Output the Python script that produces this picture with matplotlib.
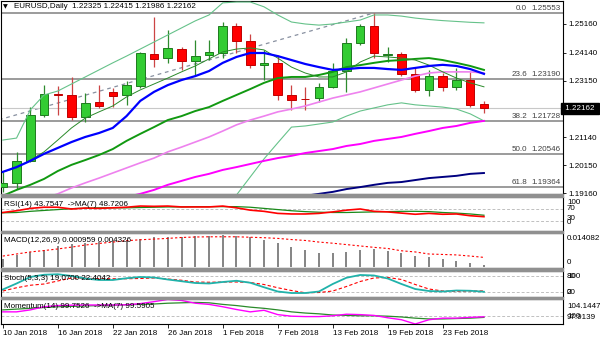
import numpy as np
import matplotlib
matplotlib.use("Agg")
import matplotlib.pyplot as plt
from matplotlib.patches import Rectangle

nan = np.nan

# daily EURUSD bars, 10 Jan 2018 .. 28 Feb 2018
date_labels = ["10 Jan 2018", "16 Jan 2018", "22 Jan 2018", "26 Jan 2018", "1 Feb 2018",
               "7 Feb 2018", "13 Feb 2018", "19 Feb 2018", "23 Feb 2018"]
label_bars = [0, 4, 8, 12, 16, 20, 24, 28, 32]

opens = [1.1938, 1.1951, 1.2030, 1.2193, 1.2267, 1.2264, 1.2186, 1.2239, 1.2275, 1.2264,
         1.2296, 1.2409, 1.2395, 1.2427, 1.2385, 1.2406, 1.2413, 1.2509, 1.2455, 1.2370,
         1.2377, 1.2264, 1.2251, 1.2253, 1.2292, 1.2349, 1.2450, 1.2509, 1.2405, 1.2409,
         1.2339, 1.2282, 1.2331, 1.2292, 1.2317, 1.22325]
highs = [1.1990, 1.2060, 1.2221, 1.2300, 1.2296, 1.2328, 1.2271, 1.2299, 1.2290, 1.2315,
         1.2417, 1.2541, 1.2495, 1.2434, 1.2459, 1.2459, 1.2523, 1.2520, 1.2480, 1.2424,
         1.2406, 1.2299, 1.2292, 1.2306, 1.2377, 1.2466, 1.2516, 1.25553, 1.2434, 1.2417,
         1.2360, 1.2353, 1.2342, 1.2360, 1.2346, 1.22415]
lows = [1.1918, 1.1930, 1.2025, 1.2185, 1.2193, 1.2175, 1.2168, 1.2218, 1.2221, 1.2229,
        1.2290, 1.2363, 1.2378, 1.2353, 1.2336, 1.2388, 1.2395, 1.2413, 1.2360, 1.2317,
        1.2246, 1.2211, 1.2211, 1.2240, 1.2290, 1.2275, 1.2440, 1.2395, 1.2381, 1.2333,
        1.2275, 1.2260, 1.2278, 1.2280, 1.2221, 1.21986]
closes = [1.1952, 1.2030, 1.2193, 1.2267, 1.2264, 1.2186, 1.2236, 1.2225, 1.2260, 1.2299,
          1.2413, 1.2392, 1.2431, 1.2385, 1.2403, 1.2417, 1.2509, 1.2456, 1.2370, 1.2377,
          1.2264, 1.2246, 1.2248, 1.2292, 1.2349, 1.2449, 1.2509, 1.2413, 1.2410, 1.2339,
          1.2282, 1.2331, 1.2292, 1.2317, 1.2229, 1.22162]

# moving averages and bands
ma_fast = [1.1991, 1.2005, 1.2033, 1.2062, 1.2104, 1.2147, 1.2182, 1.2204, 1.2225, 1.2257,
           1.2282, 1.2303, 1.2324, 1.2346, 1.2367, 1.2392, 1.2417, 1.2427, 1.2431, 1.2424,
           1.2395, 1.2363, 1.2342, 1.2328, 1.2328, 1.2346, 1.2381, 1.2402, 1.2399, 1.2395,
           1.2388, 1.2370, 1.2346, 1.2324, 1.2307, 1.2293]
ma_blue = [1.1991, 1.2008, 1.2030, 1.2055, 1.2076, 1.2097, 1.2115, 1.2129, 1.2147, 1.2189,
           1.2243, 1.2275, 1.2299, 1.2317, 1.2331, 1.2349, 1.2378, 1.2399, 1.2413, 1.2413,
           1.2402, 1.2388, 1.2374, 1.2363, 1.2353, 1.2356, 1.2360, 1.2360, 1.2356, 1.2353,
           1.2360, 1.2367, 1.2371, 1.2367, 1.2356, 1.2339]
ma_green = [1.1906, 1.1927, 1.1945, 1.1966, 1.1994, 1.2016, 1.2033, 1.2051, 1.2072, 1.2101,
            1.2126, 1.2150, 1.2175, 1.2189, 1.2207, 1.2221, 1.2243, 1.2264, 1.2285, 1.2307,
            1.2324, 1.2328, 1.2328, 1.2335, 1.2346, 1.2363, 1.2370, 1.2378, 1.2385, 1.2388,
            1.2392, 1.2395, 1.2388, 1.2378, 1.2367, 1.2353]
ma_violet = [1.1856, 1.1870, 1.1884, 1.1898, 1.1913, 1.1934, 1.1952, 1.1969, 1.1987, 1.2005,
             1.2023, 1.2040, 1.2062, 1.2079, 1.2097, 1.2115, 1.2136, 1.2158, 1.2175, 1.2189,
             1.2204, 1.2214, 1.2225, 1.2239, 1.2253, 1.2264, 1.2275, 1.2289, 1.2303, 1.2317,
             1.2331, 1.2342, 1.2346, 1.2346, 1.2346, 1.2342]
ma_magenta = [nan, nan, nan, nan, nan, nan, nan, nan, 1.1888, 1.1902,
              1.1913, 1.1927, 1.1945, 1.1959, 1.1973, 1.1984, 1.1998, 1.2008, 1.2019, 1.2030,
              1.2040, 1.2048, 1.2058, 1.2065, 1.2072, 1.2083, 1.2090, 1.2101, 1.2108, 1.2115,
              1.2126, 1.2136, 1.2147, 1.2154, 1.2165, 1.2172]
ma_navy = [nan] * 22 + [1.1906, 1.1913, 1.1920, 1.1930, 1.1937, 1.1945, 1.1952, 1.1955,
                        1.1962, 1.1969, 1.1973, 1.1977, 1.1984, 1.1987]
bb_upper = [1.2104, 1.2111, 1.2211, 1.2264, 1.2278, 1.2303, 1.2328, 1.2353, 1.2378, 1.2402,
            1.2427, 1.2452, 1.2477, 1.2502, 1.2527, 1.2548, 1.2591, 1.2594, 1.2594, 1.2577,
            1.2548, 1.2523, 1.2516, 1.2512, 1.2516, 1.2523, 1.2530, 1.2548, 1.2548, 1.2544,
            1.2537, 1.2532, 1.2528, 1.2525, 1.2522, 1.2520]
bb_lower = [nan] * 16 + [1.1838, 1.1909, 1.1973, 1.2037, 1.2094, 1.2150, 1.2154, 1.2161,
                         1.2168, 1.2189, 1.2207, 1.2218, 1.2229, 1.2236, 1.2229, 1.2225,
                         1.2221, 1.2214, 1.2197, 1.2172]

# fibonacci retracement (7 Nov 2017 low -> 16 Feb 2018 high)
fib_ratios = ["0.0", "23.6", "38.2", "50.0", "61.8"]
fib_levels = [1.25553, 1.23190, 1.21728, 1.20546, 1.19364]
fib_low_bar, fib_low = -45, 1.15540
fib_high_bar, fib_high = 27, 1.25553
bid = 1.22162
price_ticks = [1.25160, 1.24140, 1.23150, 1.21140, 1.20150, 1.19160]

# oscillators
rsi = [58, 64, 72, 76, 76, 70, 73, 72, 74, 76, 80, 79, 80, 77, 77, 77, 80, 74, 66, 62,
       55, 53, 53, 55, 60, 66, 70, 62, 60, 56, 52, 55, 52, 53, 47, 43.7547]
rsi_ma = [57, 58, 62, 65, 68, 71, 73, 74, 74, 74, 75, 76, 77, 77, 78, 78, 78, 78, 76, 72,
          68, 64, 61, 59, 58, 58, 59, 60, 61, 62, 62, 61, 58, 56, 53, 48.7206]
macd = [0.0038, 0.0054, 0.0065, 0.0075, 0.0093, 0.0100, 0.0105, 0.0112, 0.0116, 0.0119,
        0.0122, 0.0131, 0.0133, 0.0133, 0.0136, 0.0136, 0.014082, 0.0138, 0.0131, 0.0119,
        0.0105, 0.0087, 0.0075, 0.0064, 0.0064, 0.0068, 0.0075, 0.0080, 0.0071, 0.0064,
        0.0049, 0.0045, 0.0036, 0.0029, 0.0019, 0.000959]
macd_signal = [0.0049, 0.0058, 0.0067, 0.0073, 0.0080, 0.0088, 0.0097, 0.0104, 0.0110, 0.0116,
               0.0120, 0.0123, 0.0126, 0.0130, 0.0132, 0.0133, 0.0133, 0.0133, 0.0131, 0.0129,
               0.0126, 0.0121, 0.0117, 0.0110, 0.0105, 0.0099, 0.0093, 0.0087, 0.0082, 0.0072,
               0.0067, 0.0058, 0.0056, 0.0054, 0.0049, 0.004326]
stoch_k = [28, 52, 78, 87, 89, 82, 72, 66, 66, 73, 78, 76, 68, 61, 54, 52, 58, 63, 55, 37,
           20, 14, 14, 20, 50, 75, 86, 84, 72, 50, 30, 22, 20, 24, 23, 19.07]
stoch_d = [22, 35, 45, 50, 62, 74, 73, 71, 71, 71, 72, 74, 70, 65, 58, 57, 58, 58, 56, 48,
           35, 24, 15, 16, 22, 40, 60, 74, 76, 68, 48, 30, 22, 21, 22, 22.4042]
momentum = [101.0, 101.0, 101.5, 102.3, 102.6, 102.7, 102.75, 102.75, 102.75, 102.8,
            103.1, 103.6, 104.1447, 103.9, 103.2, 102.9, 102.3, 101.6, 101.0, 101.4,
            100.3, 99.9, 99.8, 99.8, 100.0, 100.4, 100.3, 100.1, 99.5, 99.0,
            97.9139, 99.0, 99.4, 99.4, 99.6, 99.7526]
momentum_ma = [101.5, 101.7, 101.9, 102.1, 102.3, 102.4, 102.5, 102.6, 102.7, 102.8,
               102.9, 103.0, 103.2, 103.3, 103.4, 103.3, 102.9, 102.6, 102.2, 101.9,
               101.5, 101.0, 100.7, 100.5, 100.2, 100.1, 100.0, 100.0, 99.9, 99.7,
               99.4, 99.2, 99.2, 99.3, 99.4, 99.5905]

plt.rcParams['font.family'] = ['Liberation Sans', 'DejaVu Sans']
FS = 5.8
W, H = 600, 343
fig = plt.figure(figsize=(W / 100, H / 100), dpi=100)
fig.patch.set_facecolor('white')


def panel(top, bottom):
    ax = fig.add_axes([1 / W, 1 - bottom / H, 562 / W, (bottom - top) / H])
    ax.set_xlim(-0.13, 40.75)
    ax.set_xticks([])
    ax.set_yticks([])
    for s in ax.spines.values():
        s.set_linewidth(0.8)
    return ax


def scale_labels(items):
    # window scale labels sit at fixed spots on the right side
    for text, ypx in items:
        fig.text(567 / W, 1 - ypx / H, text, ha='left', va='center', fontsize=FS)


# grey separators between the windows
for top, bottom in [(194, 197), (231, 233), (268, 271), (297, 299)]:
    fig.patches.append(Rectangle((1 / W, 1 - bottom / H), 562 / W, (bottom - top) / H,
                                 transform=fig.transFigure, color='#909090', zorder=0))

x = np.arange(len(opens))
o, hi, lo, c = map(np.array, (opens, highs, lows, closes))
up = c >= o

# ---- price window
ax = panel(1, 194)
ax.set_ylim(1.19125, 1.25976)
ax.yaxis.tick_right()
ax.set_yticks(price_ticks)
ax.set_yticklabels([f"{p:.5f}" for p in price_ticks])
ax.tick_params(axis='y', length=2.5, width=0.6, pad=1.3, labelsize=FS)

for lvl, r in zip(fib_levels, fib_ratios):
    ax.axhline(lvl, color='#808080', lw=1.1, zorder=1)
    ax.text(38.13, lvl + 0.00035, r, ha='right', va='bottom', fontsize=FS, color='#404040')
    ax.text(40.6, lvl + 0.00035, f"{lvl:.5f}", ha='right', va='bottom', fontsize=FS, color='#404040')
ax.plot([fib_low_bar, fib_high_bar], [fib_low, fib_high], color='#8890a0', lw=0.9,
        ls=(0, (3, 3)), zorder=1)
ax.axhline(bid, color='#c8c8c8', lw=0.8, zorder=1)

ax.vlines(x[up], lo[up], hi[up], color='#2e8b2e', lw=0.9, zorder=2)
ax.vlines(x[~up], lo[~up], hi[~up], color='#cc4444', lw=0.9, zorder=2)
body = np.maximum(np.abs(c - o), 0.00008)
ax.bar(x[up], body[up], bottom=o[up], width=0.62, color='#33cc33', edgecolor='#1e7a1e',
       lw=0.7, zorder=3)
ax.bar(x[~up], body[~up], bottom=np.minimum(o, c)[~up], width=0.62, color='#ff0000',
       edgecolor='#c00000', lw=0.7, zorder=3)

ax.plot(x, bb_upper, color='#66c28a', lw=0.8, zorder=4)
ax.plot(x, bb_lower, color='#66c28a', lw=0.8, zorder=4)
ax.plot(x, ma_navy, color='#000080', lw=1.4, zorder=4)
ax.plot(x, ma_magenta, color='#ff00ff', lw=1.4, zorder=4)
ax.plot(x, ma_violet, color='#ee82ee', lw=1.2, zorder=4)
ax.plot(x, ma_green, color='#119911', lw=1.4, zorder=4)
ax.plot(x, ma_fast, color='#2a8a2a', lw=0.7, zorder=4)
ax.plot(x, ma_blue, color='#0000ff', lw=1.6, zorder=5)

ax.text(1.0, bid, " 1.22162 ", transform=ax.get_yaxis_transform(), ha='left', va='center',
        color='white', fontsize=FS, clip_on=False,
        bbox=dict(boxstyle='square,pad=0.25', fc='black', ec='black'))
fig.text(3 / W, 1 - 6.5 / H, "▼", fontsize=4.5, family='DejaVu Sans', va='center')
fig.text(14 / W, 1 - 6.5 / H, "EURUSD,Daily  1.22325 1.22415 1.21986 1.22162",
         fontsize=FS, va='center')

# ---- RSI
ax_rsi = panel(197, 231)
ax_rsi.set_ylim(-5.1, 110.9)
for lvl in (30, 70):
    ax_rsi.axhline(lvl, color='#c0c0c0', lw=0.7, ls=(0, (3, 2)))
ax_rsi.plot(x, rsi_ma, color='#1a8a1a', lw=0.9)
ax_rsi.plot(x, rsi, color='#ff0000', lw=1.2)
ax_rsi.text(0.005, 0.88, "RSI(14) 43.7547  ->MA(7) 48.7206", transform=ax_rsi.transAxes,
            va='top', fontsize=FS)
scale_labels([("100", 202.5), ("70", 208), ("30", 219), ("0", 223)])

# ---- MACD
ax_macd = panel(233, 268)
ax_macd.set_ylim(-0.0003, 0.01495)
ax_macd.vlines(x, 0, macd, color='#707070', lw=1.2)
ax_macd.plot(x, macd_signal, color='#ff0000', lw=0.8, ls=(0, (2, 2)))
ax_macd.text(0.005, 0.88, "MACD(12,26,9) 0.000959 0.004326", transform=ax_macd.transAxes,
             va='top', fontsize=FS)
scale_labels([("0.014082", 238), ("0", 262)])

# ---- Stochastic
ax_st = panel(271, 297)
ax_st.set_ylim(-1.9, 101.9)
for lvl in (20, 80):
    ax_st.axhline(lvl, color='#c0c0c0', lw=0.7, ls=(0, (3, 2)))
ax_st.plot(x, stoch_d, color='#ff0000', lw=0.8, ls=(0, (3, 2)))
ax_st.plot(x, stoch_k, color='#20b2aa', lw=1.3)
ax_st.text(0.005, 0.85, "Stoch(5,3,3) 19.0700 22.4042", transform=ax_st.transAxes,
           va='top', fontsize=FS)
scale_labels([("100", 276), ("80", 276), ("20", 292), ("0", 292)])

# ---- Momentum
ax_mom = panel(299, 324)
ax_mom.set_ylim(97.9139, 104.27)
ax_mom.axhline(100, color='#c0c0c0', lw=0.7, ls=(0, (3, 2)))
ax_mom.plot(x, momentum_ma, color='#2a8a2a', lw=0.9)
ax_mom.plot(x, momentum, color='#ff00ff', lw=1.0)
ax_mom.text(0.005, 0.85, "Momentum(14) 99.7526  ->MA(7) 99.5905", transform=ax_mom.transAxes,
            va='top', fontsize=FS)
scale_labels([("104.1447", 306), ("100", 316), ("97.9139", 317.5)])
ax_mom.set_xticks(label_bars)
ax_mom.set_xticklabels(date_labels, ha='left')
ax_mom.tick_params(axis='x', length=3, width=0.6, pad=1.5, labelsize=FS)

fig.savefig("out.png", dpi=100, facecolor='white')
